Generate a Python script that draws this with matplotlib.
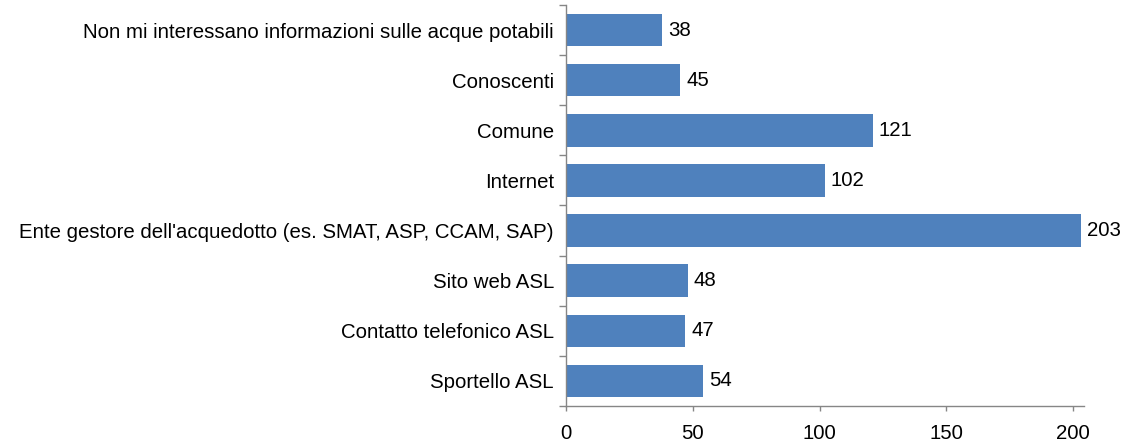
import matplotlib
matplotlib.use("Agg")
import matplotlib.pyplot as plt
from matplotlib.ticker import FixedLocator, NullFormatter

categories = [
    "Non mi interessano informazioni sulle acque potabili",
    "Conoscenti",
    "Comune",
    "Internet",
    "Ente gestore dell'acquedotto (es. SMAT, ASP, CCAM, SAP)",
    "Sito web ASL",
    "Contatto telefonico ASL",
    "Sportello ASL",
]
values = [38, 45, 121, 102, 203, 48, 47, 54]
xticks = [0, 50, 100, 150, 200]

plt.rcParams['font.family'] = ['Liberation Sans', 'DejaVu Sans']
FS = 14.7

fig = plt.figure(figsize=(11.26, 4.46), dpi=100)
ax = fig.add_axes([566/1126, 1-406/446, (1084-566)/1126, (406-5)/446])

n = len(categories)
ypos = list(range(n))
ax.barh(ypos, values, height=0.65, color="#4F81BD")
ax.set_ylim(n - 0.5, -0.5)
ax.set_xlim(0, 204.3)

ax.set_yticks(ypos)
ax.set_yticklabels(categories, fontsize=FS)
ax.tick_params(axis='y', which='major', length=0, pad=12*0.72)
ax.yaxis.set_minor_locator(FixedLocator([i - 0.5 for i in range(n + 1)]))
ax.yaxis.set_minor_formatter(NullFormatter())
ax.tick_params(axis='y', which='minor', length=7*0.72, color="#868686", width=1)

ax.set_xticks(xticks)
ax.set_xticklabels([str(t) for t in xticks], fontsize=FS)
ax.tick_params(axis='x', length=5*0.72, color="#868686", width=1, pad=9.5)

for s in ['top', 'right']:
    ax.spines[s].set_visible(False)
for s in ['left', 'bottom']:
    ax.spines[s].set_color("#868686")
    ax.spines[s].set_linewidth(1)

for y, v in zip(ypos, values):
    ax.text(v + 2.4, y, str(v), va='center', ha='left', fontsize=FS)

fig.savefig("out.png", dpi=100)
